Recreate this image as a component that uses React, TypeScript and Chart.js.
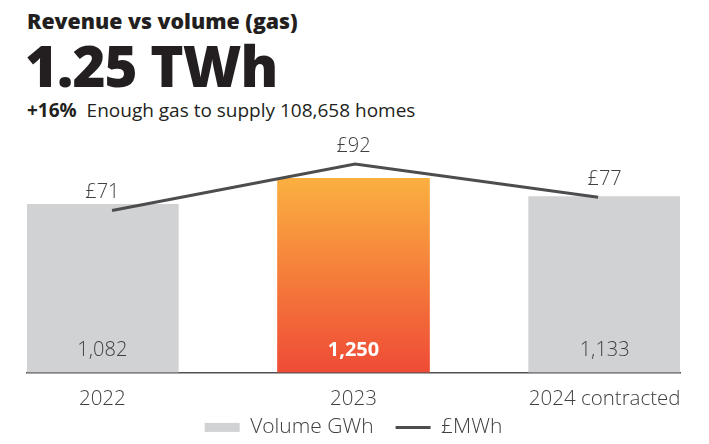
import React, { useEffect, useRef } from "react";
import { Chart, registerables } from "chart.js";

Chart.register(...registerables);

const categories = ["2022", "2023", "2024 contracted"];
const volumeGWh = [1082, 1250, 1133];
const priceMWh = [71, 92, 77];
const highlightIndex = 1;

const FONT = "'Open Sans', sans-serif";
const GRAY = "#d1d2d4";
const LINE = "#4d4d4f";
const TEXT = "#404041";

const labelsPlugin = {
  id: "valueLabels",
  afterDatasetsDraw(chart: any) {
    const ctx = chart.ctx;
    const barMeta = chart.getDatasetMeta(0);
    const lineMeta = chart.getDatasetMeta(1);
    const y0 = chart.scales.y.getPixelForValue(0);
    ctx.save();
    ctx.textAlign = "center";
    ctx.textBaseline = "middle";
    barMeta.data.forEach((el: any, i: number) => {
      const hi = i === highlightIndex;
      ctx.font = `${hi ? 700 : 300} 20px ${FONT}`;
      ctx.fillStyle = hi ? "#ffffff" : TEXT;
      ctx.fillText(volumeGWh[i].toLocaleString("en-GB"), el.x, y0 - 22);
    });
    lineMeta.data.forEach((el: any, i: number) => {
      ctx.font = `300 20px ${FONT}`;
      ctx.fillStyle = TEXT;
      const bx = barMeta.data[i].x;
      ctx.fillText("£" + priceMWh[i], bx, el.y - 18);
    });
    ctx.restore();
  },
};

const legendPlugin = {
  id: "bottomLegend",
  afterDraw(chart: any) {
    const ctx = chart.ctx;
    const area = chart.chartArea;
    const ds = chart.data.datasets;
    const font = `300 21px ${FONT}`;
    const boxW = 35;
    const gapText = 10.5;
    const gapItems = 22;
    ctx.save();
    ctx.font = font;
    const widths = ds.map((d: any) => boxW + gapText + ctx.measureText(d.label).width);
    const total = widths.reduce((a: number, b: number) => a + b, 0) + gapItems * (ds.length - 1);
    let x = (area.left + area.right) / 2 - total / 2;
    const y = area.bottom + 55;
    ds.forEach((d: any, i: number) => {
      if (d.type === "line") {
        ctx.strokeStyle = LINE;
        ctx.lineWidth = 3;
        ctx.beginPath();
        ctx.moveTo(x, y);
        ctx.lineTo(x + boxW, y);
        ctx.stroke();
      } else {
        ctx.fillStyle = GRAY;
        ctx.fillRect(x, y - 4.5, boxW, 9);
      }
      ctx.fillStyle = TEXT;
      ctx.textAlign = "left";
      ctx.textBaseline = "middle";
      ctx.fillText(d.label, x + boxW + gapText, y);
      x += widths[i] + gapItems;
    });
    ctx.restore();
  },
};

export default function App() {
  const ref = useRef<HTMLCanvasElement>(null);
  useEffect(() => {
    if (!ref.current) return;
    const chart = new Chart(ref.current, {
      type: "bar",
      data: {
        datasets: [
          {
            type: "bar",
            label: "Volume GWh",
            data: volumeGWh.map((v, i) => ({ x: i, y: v })),
            backgroundColor: (c: any) => {
              if (c.dataIndex !== highlightIndex) return GRAY;
              const ch = c.chart;
              if (!ch.chartArea) return "#f7913d";
              const ys = ch.scales.y;
              const g = ch.ctx.createLinearGradient(
                0,
                ys.getPixelForValue(volumeGWh[highlightIndex]),
                0,
                ys.getPixelForValue(0)
              );
              g.addColorStop(0, "#fbb040");
              g.addColorStop(1, "#ef4b36");
              return g;
            },
            grouped: false,
            barThickness: 152,
            maxBarThickness: 152,
            xAxisID: "x",
            yAxisID: "y",
            order: 2,
          } as any,
          {
            type: "line",
            label: "£MWh",
            data: priceMWh.map((v, i) => ({ x: i, y: v })),
            borderColor: LINE,
            backgroundColor: LINE,
            borderWidth: 3,
            pointRadius: 0,
            tension: 0,
            xAxisID: "xLine",
            yAxisID: "y2",
            order: 1,
          } as any,
        ],
      },
      options: {
        animation: false,
        responsive: false,
        layout: { padding: { left: 27, right: 29, top: 124, bottom: 27 } },
        scales: {
          x: {
            type: "linear",
            offset: false,
            min: -0.3,
            max: 2.3,
            afterBuildTicks: (s: any) => {
              s.ticks = categories.map((_, i) => ({ value: i }));
            },
            ticks: {
              callback: (v: any) => categories[v as number] ?? "",
              font: { family: FONT, size: 20.5, weight: "300" as any },
              color: TEXT,
              padding: 6,
              autoSkip: false,
              maxRotation: 0,
            },
            grid: { display: false, offset: false },
            border: { display: true, color: "#505052", width: 1.5 },
          },
          xLine: {
            type: "linear",
            display: false,
            offset: false,
            min: -0.35,
            max: 2.337,
          },
          y: {
            display: false,
            min: 0,
            max: 1600,
          },
          y2: {
            display: false,
            min: -2,
            max: 110,
          },
        },
        plugins: {
          legend: { display: false },
          tooltip: { enabled: false },
          title: { display: false },
        },
      },
      plugins: [labelsPlugin, legendPlugin],
    } as any);
    return () => chart.destroy();
  }, []);

  return (
    <div style={{ position: "fixed", left: 0, top: 0, width: 709, height: 444, overflow: "hidden", background: "#fff", fontFamily: FONT, color: "#231f20" }}>
      <div style={{ position: "absolute", left: 27, top: 6, fontSize: 21.3, fontWeight: 800, lineHeight: "30px", whiteSpace: "nowrap" }}>
        Revenue vs volume (gas)
      </div>
      <div style={{ position: "absolute", left: 25, top: 30, fontSize: 56.5, fontWeight: 800, lineHeight: "72px", letterSpacing: -1, whiteSpace: "nowrap" }}>
        1.25 TWh
      </div>
      <div style={{ position: "absolute", left: 27, top: 97, fontSize: 19, lineHeight: "26px", whiteSpace: "nowrap" }}>
        <span style={{ fontWeight: 700 }}>+16%</span>&nbsp; Enough gas to supply 108,658 homes
      </div>
      <canvas ref={ref} width={709} height={444} style={{ position: "absolute", left: 0, top: 0 }} />
    </div>
  );
}
